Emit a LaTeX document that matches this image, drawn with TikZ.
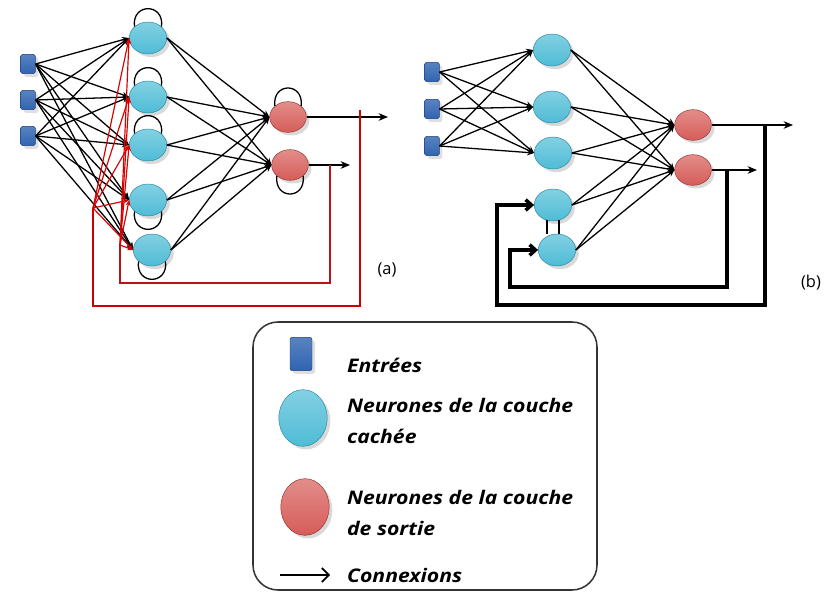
\documentclass[tikz,border=0pt]{standalone}
\usepackage{fontspec}
\setmainfont{Open Sans}
\newfontfamily\legfont[FakeStretch=1.13]{Open Sans}
\usetikzlibrary{arrows.meta, shapes.geometric, shadows}
\definecolor{hidcyan}{RGB}{78, 188, 214}
\definecolor{hidedge}{RGB}{40, 135, 165}
\definecolor{outred}{RGB}{214, 92, 88}
\definecolor{outedge}{RGB}{150, 50, 48}
\definecolor{inblue}{RGB}{48, 100, 176}
\definecolor{inedge}{RGB}{28, 62, 122}
\definecolor{fbred}{RGB}{178, 22, 22}
\tikzset{
  entree/.style={rectangle, rounded corners=1.5pt, minimum width=0.44cm, minimum height=0.58cm,
    top color=inblue!80!white, bottom color=inblue, draw=inedge, drop shadow={opacity=0.25}},
  cachee/.style={ellipse, minimum width=1.12cm, minimum height=0.96cm, inner sep=0pt,
    top color=hidcyan!70!white, bottom color=hidcyan, draw=hidedge, drop shadow={opacity=0.3}},
  sortie/.style={ellipse, minimum width=1.1cm, minimum height=0.92cm, inner sep=0pt,
    top color=outred!70!white, bottom color=outred, draw=outedge, drop shadow={opacity=0.3}},
  conn/.style={-{Stealth[length=6pt,width=5pt]}, line width=1.1pt},
  sortiefl/.style={-{Stealth[length=8pt,width=6.5pt]}, line width=1.5pt},
  boucle/.style={line width=1.1pt},
  retourA/.style={fbred, line width=2.4pt},
  rougefl/.style={red!85!black, line width=1pt, -{Stealth[length=5pt,width=4pt]}},
  retourB/.style={line width=3pt, -{Straight Barb[length=5pt,width=9pt]}},
  legtxt/.style={anchor=west, align=left, font=\legfont\fontsize{16}{26}\selectfont\bfseries\itshape},
}

\begin{document}
\begin{tikzpicture}[x=0.03cm, y=-0.03cm]
    \clip (0,0) rectangle (826,593);

    % ---- reseau (a)
    \foreach \i/\y in {1/64, 2/100, 3/136}
        \node[entree] (ea\i) at (28,\y) {};
    \foreach \i/\x/\y in {1/148/38, 2/148/97, 3/148/145, 4/148/200, 5/152/250}
        \node[cachee] (ca\i) at (\x,\y) {};
    \node[sortie] (sa1) at (288,117) {};
    \node[sortie] (sa2) at (290,165) {};

    \foreach \i in {1,2,3}
        \foreach \j in {1,...,5}
            \draw[conn] (ea\i.east) -- (ca\j.west);
    \foreach \j in {1,...,5}
        \foreach \k in {1,2}
            \draw[conn] (ca\j.east) -- (sa\k.west);

    % boucles sur chaque neurone
    \foreach \n in {ca1, ca2, ca3, sa1}
        \draw[boucle] (\n.140) .. controls +(-3,-24) and +(3,-24) .. (\n.40);
    \foreach \n in {ca4, ca5, sa2}
        \draw[boucle] (\n.220) .. controls +(-3,24) and +(3,24) .. (\n.320);

    \draw[sortiefl] (sa1.east) -- (388,117);
    \draw[sortiefl] (sa2.east) -- (350,165);

    % retours (rouge)
    \coordinate (ra1) at (330,165);
    \coordinate (ra2) at (360,110);
    \coordinate (ci) at (120,283);
    \coordinate (co) at (93,306);
    \coordinate (fbi) at (120,245);
    \coordinate (fbo) at (93,208);
    \draw[retourA] (ra1) |- (ci) -- (fbi);
    \draw[retourA, line width=1.8pt, red!80!black] (ra2) |- (co) -- (fbo);
    \foreach \j in {1,...,5} {
        \draw[rougefl] (fbi) -- (ca\j.west);
        \draw[rougefl] (fbo) -- (ca\j.west);
    }

    \node[font=\fontsize{14}{16}\selectfont] (lbla) at (387,270) {(a)};

    % ---- reseau (b)
    \foreach \i/\y in {1/72, 2/109, 3/146}
        \node[entree] (eb\i) at (432,\y) {};
    \foreach \i/\x/\y in {1/552/50, 2/552/107, 3/553/153, 4/553/205, 5/557/250}
        \node[cachee] (cb\i) at (\x,\y) {};
    \node[sortie] (sb1) at (693,125) {};
    \node[sortie] (sb2) at (693,170) {};

    \foreach \i in {1,2,3}
        \foreach \j in {1,2,3}
            \draw[conn] (eb\i.east) -- (cb\j.west);
    \foreach \j in {1,...,5}
        \foreach \k in {1,2}
            \draw[conn] (cb\j.east) -- (sb\k.west);

    \draw[line width=1.5pt] (cb4.250) -- (cb4.250 |- cb5.north);
    \draw[line width=1.5pt] (cb4.290) -- (cb4.290 |- cb5.north);

    \draw[sortiefl] (sb1.east) -- (793,125);
    \draw[sortiefl] (sb2.east) -- (757,170);

    \coordinate (rb2) at (727,170);
    \coordinate (rb1) at (765,125);
    \coordinate (bi) at (510,287);
    \coordinate (bo) at (497,305);
    \draw[retourB] (rb2) |- (bi) |- (cb5.west);
    \draw[retourB] (rb1) |- (bo) |- (cb4.west);

    \node[font=\fontsize{14}{16}\selectfont] (lblb) at (811,283) {(b)};

    % ---- legende
    \draw[line width=1.3pt, black!80, rounded corners=0.75cm] (253,322) rectangle (597,590);
    \node[entree, minimum width=0.66cm, minimum height=1.0cm, rounded corners=2pt] (legE) at (301,354) {};
    \node[cachee, minimum width=1.45cm, minimum height=1.7cm] (legC) at (303,418) {};
    \node[sortie, minimum width=1.45cm, minimum height=1.7cm] (legS) at (305,507) {};
    \node[legtxt] (txtE) at (343,365) {Entrées};
    \node[legtxt] (txtC) at (343,421) {Neurones de la couche\\cachée};
    \node[legtxt] (txtS) at (343,513) {Neurones de la couche\\de sortie};
    \node[legtxt] (txtX) at (343,575) {Connexions};
    \coordinate (legA) at (280,575);
    \draw[line width=1.4pt, -{Straight Barb[length=6pt,width=12pt]}] (legA) -- (330,575);
\end{tikzpicture}
\end{document}
